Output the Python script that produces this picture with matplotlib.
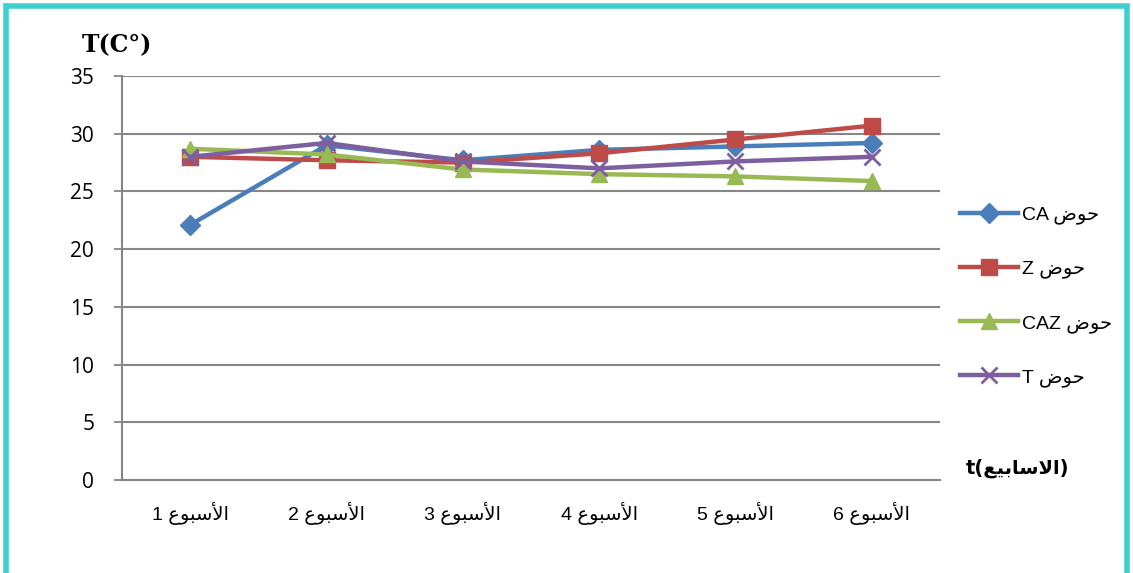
import matplotlib.pyplot as plt
from matplotlib.patches import Rectangle

# Arabic strings written in visual order with presentation forms,
# since matplotlib does no shaping or bidi reordering itself
HAWD = '\uFEBD\uFEEE\uFEA3'                          # حوض
USBU = '\uFEC9\uFEEE\uFE92\uFEB3\uFEF7\uFE8D'        # الأسبوع
ASABIE = '\uFECA\uFEF4\uFE91\uFE8E\uFEB3\uFEFB\uFE8D'  # الاسابيع

weeks = ['1', '2', '3', '4', '5', '6']
week_labels = [w + ' ' + USBU for w in weeks]

basins = ['CA', 'Z', 'CAZ', 'T']
ca = [22.1, 29.0, 27.7, 28.6, 28.9, 29.2]
z = [28.0, 27.7, 27.5, 28.3, 29.5, 30.7]
caz = [28.7, 28.2, 26.9, 26.5, 26.3, 25.9]
t = [28.0, 29.2, 27.6, 27.0, 27.6, 28.0]

series = [ca, z, caz, t]
colors = ['#4A7EBB', '#BE4B48', '#98B954', '#7D5FA0']
markers = ['D', 's', '^', 'x']
msizes = [10, 11, 11, 11]

fonts = ['Liberation Sans', 'DejaVu Sans']
plt.rcParams['font.family'] = fonts

fig = plt.figure(figsize=(11.33, 5.73), dpi=100)
ax = fig.add_axes([122 / 1133, 1 - 480 / 573, (940 - 122) / 1133, (480 - 76) / 573])

x = list(range(len(weeks)))
for vals, name, c, m, ms in zip(series, basins, colors, markers, msizes):
    ax.plot(x, vals, color=c, lw=3.2, marker=m, ms=ms, mew=2 if m == 'x' else 1,
            label=name + ' ' + HAWD, zorder=3)

ax.set_xlim(-0.5, 5.5)
ax.set_ylim(0, 35)
ax.set_yticks(range(0, 36, 5))
ax.set_yticklabels([str(v) for v in range(0, 36, 5)], fontsize=15,
                   family=['Open Sans', 'DejaVu Sans'])
ax.set_xticks(x)
ax.set_xticklabels(week_labels, fontsize=14)
ax.tick_params(axis='x', length=0, pad=16)
ax.tick_params(axis='y', length=6, width=1.3, color='#868686', pad=14)
ax.yaxis.grid(True, color='#868686', lw=1.5)
ax.set_axisbelow(True)
for side in ['top', 'right']:
    ax.spines[side].set_visible(False)
for side in ['left', 'bottom']:
    ax.spines[side].set_color('#868686')
    ax.spines[side].set_linewidth(1.5)

leg = ax.legend(loc='upper left', bbox_to_anchor=(952 / 1133, 1 - 198 / 573),
                bbox_transform=fig.transFigure, frameon=False, fontsize=14,
                handlelength=3.0, labelspacing=1.85, handletextpad=0.2,
                borderaxespad=0)

fig.text(82 / 1133, 1 - 45 / 573, 'T(C°)', fontsize=17, fontweight='bold',
         family=['DejaVu Serif'], va='center', ha='left')
fig.text(966 / 1133, 1 - 468 / 573, 't(' + ASABIE + ')', fontsize=14,
         fontweight='bold', family=['DejaVu Sans'], va='center', ha='left')

# cyan frame around the chart
fig.patches.append(Rectangle((6 / 1133, -0.05), (1127 - 6) / 1133, 1.05 - 6 / 573,
                             transform=fig.transFigure, fill=False,
                             edgecolor='#3FCFCF', lw=4))

fig.savefig('out.png', dpi=100)
